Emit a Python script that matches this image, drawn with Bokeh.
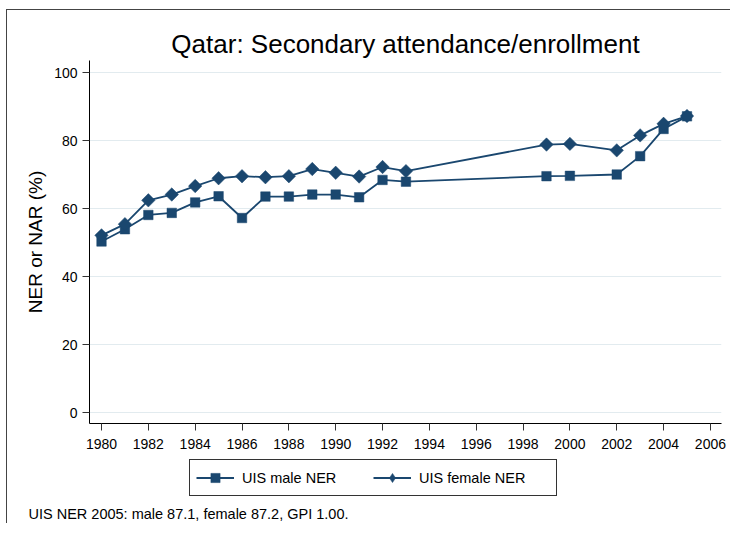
from bokeh.plotting import figure
from bokeh.models import Range1d, FixedTicker, Legend, LegendItem, Title
from bokeh.layouts import column
from bokeh.embed import file_html
from bokeh.resources import INLINE
import math

years = [1980, 1981, 1982, 1983, 1984, 1985, 1986, 1987, 1988, 1989, 1990,
         1991, 1992, 1993, 1999, 2000, 2002, 2003, 2004, 2005]
male_ner = [50.3, 53.9, 58.1, 58.7, 61.8, 63.6, 57.2, 63.5, 63.5, 64.1, 64.1,
            63.3, 68.4, 67.9, 69.5, 69.6, 70.0, 75.4, 83.4, 87.1]
female_ner = [52.1, 55.4, 62.4, 64.1, 66.6, 68.9, 69.5, 69.2, 69.5, 71.6, 70.5,
              69.4, 72.2, 71.0, 78.8, 79.0, 77.1, 81.5, 84.9, 87.2]
x_ticks = list(range(1980, 2007, 2))
y_ticks = [0, 20, 40, 60, 80, 100]
title_text = "Qatar: Secondary attendance/enrollment"
y_label = "NER or NAR (%)"
series_names = ["UIS male NER", "UIS female NER"]
note_text = "UIS NER 2005: male 87.1, female 87.2, GPI 1.00."

FONT = "Liberation Sans"
NAVY = "#1a476f"
BORDER = "1px solid #444444"

# ---- main chart ----
p = figure(width=724, height=443, output_backend="svg", toolbar_location=None,
           x_range=Range1d(1979.4876, 2006.473), y_range=Range1d(-3.235, 103.53),
           min_border_left=82, min_border_right=10, min_border_top=50,
           min_border_bottom=30)
p.styles = {"margin-left": "6px", "margin-top": "9px",
            "border-left": BORDER, "border-top": BORDER}
p.outline_line_color = None
p.background_fill_color = "white"
p.border_fill_color = "white"

p.title.text = title_text
p.title.align = "center"
p.title.text_font = FONT
p.title.text_font_size = "26px"
p.title.text_font_style = "normal"
p.title.text_color = "black"
p.title.standoff = 4

p.xaxis.ticker = FixedTicker(ticks=x_ticks)
p.yaxis.ticker = FixedTicker(ticks=y_ticks)
for ax in (p.xaxis, p.yaxis):
    ax.major_label_text_font = FONT
    ax.major_label_text_font_size = "14px"
    ax.major_label_text_color = "black"
    ax.axis_line_color = "black"
    ax.axis_line_width = 1
    ax.major_tick_line_color = "#333333"
    ax.major_tick_out = 7
    ax.major_tick_in = 0
    ax.minor_tick_line_color = None
    ax.axis_label_text_font = FONT
    ax.axis_label_text_font_style = "normal"
    ax.axis_label_text_color = "black"
p.xaxis.major_label_standoff = 8
p.yaxis.major_label_standoff = 5
p.yaxis.axis_label = y_label
p.yaxis.axis_label_text_font_size = "19px"
p.yaxis.axis_label_standoff = 5

p.xgrid.grid_line_color = None
p.ygrid.grid_line_color = "#e2ebef"
p.ygrid.grid_line_width = 1

line_kw = dict(line_color=NAVY, line_width=1.8)
sq_kw = dict(marker="square", size=9.5, fill_color=NAVY, line_color=NAVY, line_width=0.5)
dm_kw = dict(marker="square", size=9.5, angle=math.pi / 4, fill_color=NAVY,
             line_color=NAVY, line_width=0.5)
dm_legend_kw = dict(marker="diamond", size=13, fill_color=NAVY, line_color=NAVY,
                    line_width=0.5)

p.line(years, male_ner, **line_kw)
p.scatter(years, male_ner, **sq_kw)
p.line(years, female_ner, **line_kw)
p.scatter(years, female_ner, **dm_kw)

# ---- legend + note strip (same series, ranges keep them out of view) ----
p2 = figure(width=724, height=71, output_backend="svg", toolbar_location=None,
            x_axis_type=None, y_axis_type=None,
            x_range=Range1d(0, 1), y_range=Range1d(0, 1),
            min_border_left=0, min_border_right=0, min_border_top=0,
            min_border_bottom=0)
p2.styles = {"margin-left": "6px", "border-left": BORDER}
p2.outline_line_color = None
p2.background_fill_color = "white"
p2.border_fill_color = "white"

e1 = p2.line(years, male_ner, **line_kw)
e1s = p2.scatter(years, male_ner, **sq_kw)
e2 = p2.line(years, female_ner, **line_kw)
e2s = p2.scatter(years, female_ner, **dm_legend_kw)

legend = Legend(items=[LegendItem(label=series_names[0], renderers=[e1, e1s]),
                       LegendItem(label=series_names[1], renderers=[e2, e2s])],
                orientation="horizontal", location=(100, 5),
                padding=6, spacing=0, glyph_width=38, glyph_height=23,
                label_height=23, label_width=131,
                label_standoff=8, label_text_font=FONT,
                label_text_font_size="14.5px", label_text_color="black",
                border_line_color="#333333", border_line_width=1,
                border_line_alpha=1,
                background_fill_color="white", background_fill_alpha=1,
                margin=0)
p2.add_layout(legend, "center")

note = Title(text=note_text, align="left", offset=-61, text_font=FONT,
             text_font_size="14.5px", text_font_style="normal", text_color="black",
             standoff=4)
p2.add_layout(note, "below")

layout = column(p, p2, spacing=0)
open("out.html", "w").write(file_html(layout, INLINE))
